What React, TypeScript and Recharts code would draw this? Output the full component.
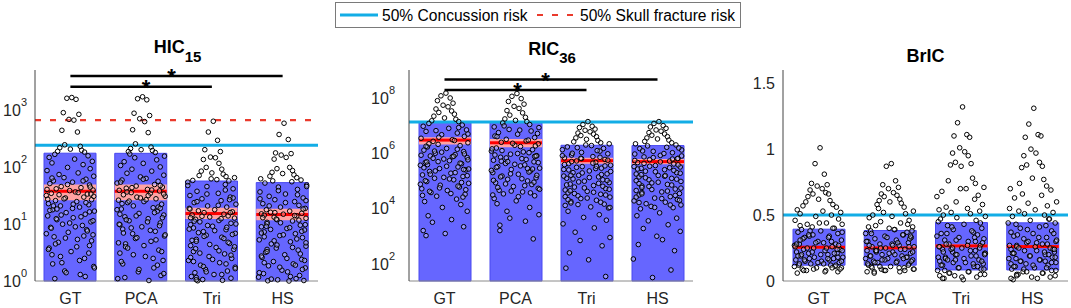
import React from 'react';
import { ComposedChart, Bar, Scatter, XAxis, YAxis, ReferenceLine } from 'recharts';

const FONT = '"Liberation Sans", Arial, Helvetica, sans-serif';

const categories = ['GT', 'PCA', 'Tri', 'HS'];

// ---------- HIC15 ----------
const hicGT = [1700,1650,1580,920,860,700,680,450,420,250,235,222,210,200,192,186,170,160,150,140,128,120,112,100,95,88,80,75,70,66,62,58,55,52,49,46,44,42,40,39,37,35,34,32,30,29,27,26,25,23,22,21,20,18,17,16,15,14,13,12,11,10,9.5,8.8,8,7.2,6.5,6,5.4,4.8,4.2,3.8,3.3,2.9,2.5,2.1,1.8,1.5,1.3,1.1,
  65,58,50,45,41,36,33,31,28,24,21,19,17.5,16.5,14.5,13.5,12.5,11.5,10.5,9,8.5,7.6,6.8,6.2,5.7,5.1,4.5,4,3.6,3.1,2.7,2.3,2,1.7,1.4,1.2,27.5,22.5,18.5,34];
const hicPCA = [1750,1620,1550,900,820,720,640,460,410,260,228,215,205,198,190,183,172,158,148,136,126,118,108,102,93,86,79,73,68,64,60,57,53,50,47,45,43,41,39.5,38.5,36,35,33,31,30,28,26.5,25,24,22.5,21,19.5,18.5,17,15.5,14.5,13.5,12.5,11.5,10.5,9.8,9,8.2,7.5,6.8,6.2,5.6,5,4.5,4,3.5,3.1,2.7,2.3,2,1.7,1.45,1.25,1.1,1.02,
  62,55,48,44,40,37,34,29,27,23,20,18,16,14,13,12,11,10,9.4,8.6,7.8,7,6.5,5.8,5.3,4.7,4.2,3.8,3.3,2.9,2.5,2.2,1.9,1.6,1.35,1.15,32,25.5,19,15];
const hicTri = [650,420,300,205,190,152,148,138,118,100,93,86,80,76,72,69,66,63,61,59,58,55,50,46,42,38,35,32,30,28,26,24,22.5,21,20,19,18,17.2,16.5,16,15,14.5,14,13.4,12.8,12.2,11.6,11,10.4,9.8,9.2,8.6,8,7.4,6.9,6.4,5.9,5.4,5,4.6,4.2,3.9,3.6,3.3,3,2.7,2.5,2.3,2.1,1.9,1.75,1.6,1.5,1.4,1.3,1.2,1.12,1.06,1.03,1.01,
  48,40,34,29,25,21.5,18.5,16,13.8,12.5,11.3,10.1,9.5,8.8,8.2,7.7,7.1,6.6,6.1,5.6,5.2,4.8,4.4,4,3.7,3.4,3.1,2.85,2.6,2.4,2.2,2,1.8,1.65,1.45,1.3,1.15,1.05,27,13];
const hicHS = [600,380,310,180,175,165,150,140,100,95,88,82,78,74,70,66,63,60,58,56,53,49,45,41,37,34,31,29,27,25,23,21.5,20,19,18,17,16.2,15.6,15.2,15,14.4,14,13.3,12.7,12,11.4,10.8,10.2,9.6,9,8.4,7.9,7.3,6.8,6.3,5.8,5.3,4.9,4.5,4.1,3.8,3.5,3.2,2.9,2.6,2.4,2.2,2,1.85,1.7,1.55,1.45,1.35,1.25,1.17,1.1,1.05,1.02,1.01,1,
  46,39,33,28,24,21,18.5,16,14.2,13,11.8,10.6,9.8,9.2,8.7,8.1,7.5,7,6.5,6,5.5,5.1,4.7,4.3,3.9,3.6,3.3,3,2.75,2.5,2.3,2.1,1.9,1.75,1.6,1.4,1.2,1.08,26,12.3];
const hicBarTop = [178, 177, 57.6, 54];
const hicMean = [38, 38, 15.4, 14.8];
const hicCiLow = [26.5, 26.5, 12.3, 11.7];
const hicCiHigh = [50, 50, 19.4, 18.7];
const hicConcussion = 245;
const hicSkullFracture = 680;
const hicDomain = [1, 5190];
const hicTicks = [1, 10, 100, 1000];
const hicMajorMarks = [1, 10, 100, 1000];
const hicSig = [
  { from: 1, to: 4, level: 4070 },
  { from: 1, to: 3, level: 2640 },
];

// ---------- RIC36 ----------
const ricGT = [1.5e8,1.2e8,1e8,8e7,6.5e7,5.5e7,4.8e7,4e7,3.4e7,3e7,2.6e7,2.2e7,1.9e7,1.7e7,1.5e7,1.4e7,1.2e7,1.05e7,9.5e6,8e6,7e6,6.2e6,5.4e6,4.7e6,4.1e6,3.5e6,3.1e6,2.7e6,2.4e6,2.1e6,1.9e6,1.7e6,1.5e6,1.3e6,1.15e6,1e6,9e5,8e5,7e5,6.2e5,5.4e5,4.7e5,4.2e5,3.7e5,3.2e5,2.8e5,2.5e5,2.2e5,1.9e5,1.65e5,1.45e5,1.25e5,1.1e5,9.5e4,8.2e4,7e4,6e4,5.2e4,4.5e4,3.8e4,3.3e4,2.8e4,2.2e4,1.8e4,1.4e4,1.1e4,8e3,5.5e3,4e3,3.2e3,2.2e3,1.6e3,1.25e3,1.05e3,
  8.5e6,6.6e6,5e6,3.8e6,2.9e6,2.2e6,1.8e6,1.4e6,1.1e6,9.5e5,8.5e5,7.5e5,6.6e5,5.8e5,5e5,4.4e5,3.9e5,3.4e5,3e5,2.6e5,2.3e5,2e5,1.75e5,1.55e5,1.35e5,1.18e5,1.02e5,8.8e4,7.6e4,6.5e4,5.6e4,4.8e4,4.2e4,3.5e4,3e4,2.6e4,1.2e6,7.8e5,4.9e5,2.7e5];
const ricPCA = [1.45e8,1.15e8,9.5e7,7.5e7,6e7,5e7,4.2e7,3.5e7,2.9e7,2.4e7,2e7,1.75e7,1.55e7,1.4e7,1.25e7,1.1e7,9.8e6,8.5e6,7.3e6,6.4e6,5.6e6,4.9e6,4.2e6,3.7e6,3.2e6,2.8e6,2.5e6,2.2e6,1.95e6,1.75e6,1.55e6,1.35e6,1.2e6,1.05e6,9.3e5,8.2e5,7.2e5,6.4e5,5.6e5,4.9e5,4.3e5,3.8e5,3.3e5,2.9e5,2.6e5,2.3e5,2e5,1.75e5,1.5e5,1.3e5,1.15e5,1e5,8.6e4,7.4e4,6.3e4,5.4e4,4.6e4,4e4,3.4e4,2.9e4,2.3e4,1.9e4,1.5e4,1.1e4,8e3,6e3,4.5e3,3.5e3,2.5e3,1.6e3,800,
  9e6,6.9e6,5.2e6,4e6,3e6,2.3e6,1.85e6,1.45e6,1.12e6,9.8e5,8.7e5,7.7e5,6.8e5,6e5,5.2e5,4.6e5,4e5,3.5e5,3.1e5,2.7e5,2.4e5,2.1e5,1.8e5,1.6e5,1.4e5,1.2e5,1.05e5,9e4,7.8e4,6.7e4,5.8e4,5e4,4.3e4,3.7e4,3.1e4,2.7e4,1.25e6,8e5,5e5,2.8e5];
const ricTri = [1.4e7,1.1e7,9.5e6,8.5e6,7.5e6,6.8e6,6e6,5.4e6,4.9e6,4.4e6,4e6,3.6e6,3.2e6,2.9e6,2.6e6,2.4e6,2.2e6,2e6,1.9e6,1.7e6,1.5e6,1.35e6,1.2e6,1.08e6,9.6e5,8.6e5,7.6e5,6.8e5,6e5,5.3e5,4.7e5,4.2e5,3.7e5,3.3e5,2.9e5,2.6e5,2.3e5,2e5,1.8e5,1.6e5,1.4e5,1.25e5,1.1e5,9.8e4,8.7e4,7.7e4,6.8e4,6e4,5.3e4,4.7e4,4.2e4,3.7e4,3.3e4,2.9e4,2.6e4,2.3e4,2e4,1.8e4,1.6e4,1.45e4,1.3e4,1.15e4,1.05e4,8e3,6e3,4.8e3,3.8e3,2.8e3,2e3,1.4e3,900,700,450,250,140,70,35,
  1.6e6,1.25e6,1e6,8.2e5,7.2e5,6.4e5,5.6e5,5e5,4.4e5,3.9e5,3.5e5,3.1e5,2.8e5,2.5e5,2.2e5,1.95e5,1.7e5,1.5e5,1.33e5,1.18e5,1.04e5,9.2e4,8.2e4,7.2e4,6.4e4,5.6e4,5e4,4.4e4,3.9e4,3.5e4,3.1e4,2.7e4,2.4e4,2.1e4,1.7e4,1.4e4,1.1e4,6.6e5,3.4e5,1.6e5];
const ricHS = [1.4e7,1.2e7,1e7,9e6,8e6,7e6,6.3e6,5.6e6,5e6,4.5e6,4e6,3.6e6,3.3e6,3e6,2.7e6,2.4e6,2.2e6,2e6,1.85e6,1.65e6,1.48e6,1.32e6,1.18e6,1.05e6,9.4e5,8.4e5,7.4e5,6.6e5,5.9e5,5.2e5,4.6e5,4.1e5,3.6e5,3.2e5,2.85e5,2.55e5,2.25e5,2e5,1.78e5,1.58e5,1.4e5,1.24e5,1.1e5,9.6e4,8.5e4,7.5e4,6.6e4,5.8e4,5.1e4,4.5e4,4e4,3.5e4,3.1e4,2.7e4,2.4e4,2.1e4,1.9e4,1.7e4,1.5e4,1.35e4,1.2e4,1.08e4,9.8e3,7e3,5.5e3,4.5e3,3.6e3,2.6e3,1.9e3,1.5e3,1e3,750,500,300,150,60,32,
  1.55e6,1.22e6,9.8e5,8e5,7e5,6.2e5,5.5e5,4.9e5,4.3e5,3.8e5,3.4e5,3e5,2.7e5,2.4e5,2.15e5,1.9e5,1.68e5,1.48e5,1.3e5,1.16e5,1.02e5,9e4,8e4,7.1e4,6.3e4,5.5e4,4.9e4,4.3e4,3.8e4,3.4e4,3e4,2.6e4,2.3e4,2e4,1.65e4,1.35e4,1.1e4,6.4e5,3.3e5,1.55e5];
const ricBarTop = [1.3e7, 1.3e7, 1.95e6, 1.9e6];
const ricMean = [3.0e6, 2.4e6, 5.4e5, 5.0e5];
const ricCiLow = [2.1e6, 1.65e6, 4.2e5, 4.0e5];
const ricCiHigh = [3.8e6, 3.3e6, 6.9e5, 6.2e5];
const ricConcussion = 1.36e7;
const ricDomain = [24, 1.03e9];
const ricTicks = [1e2, 1e4, 1e6, 1e8];
const ricMajorMarks = [1e2, 1e3, 1e4, 1e5, 1e6, 1e7, 1e8, 1e9];
const ricSig = [
  { from: 1, to: 4, level: 4.7e8 },
  { from: 1, to: 3, level: 1.95e8 },
];

// ---------- BrIC ----------
const bricGT = [1.01,0.89,0.81,0.74,0.73,0.72,0.7,0.69,0.67,0.66,0.66,0.64,0.62,0.61,0.6,0.58,0.57,0.56,0.54,0.53,0.52,0.51,0.5,0.49,0.47,0.46,0.44,0.43,0.43,0.41,0.4,0.39,0.38,0.37,0.36,0.34,0.34,0.33,0.31,0.3,0.29,0.28,0.28,0.27,0.26,0.25,0.24,0.24,0.23,0.22,0.21,0.21,0.2,0.19,0.18,0.18,0.17,0.16,0.15,0.15,0.14,0.13,0.12,0.12,0.11,0.1,0.1,0.09,0.08,0.08,0.07,0.06,
  0.44,0.42,0.4,0.38,0.37,0.35,0.33,0.32,0.31,0.3,0.29,0.27,0.26,0.25,0.25,0.23,0.22,0.21,0.2,0.2,0.19,0.18,0.17,0.16,0.16,0.15,0.14,0.13,0.13,0.12,0.11,0.1,0.09,0.09,0.08,0.07,0.28,0.24,0.35,0.17];
const bricPCA = [0.89,0.87,0.76,0.73,0.71,0.7,0.67,0.66,0.65,0.64,0.62,0.61,0.6,0.59,0.58,0.56,0.55,0.53,0.52,0.51,0.5,0.49,0.48,0.46,0.45,0.44,0.42,0.41,0.4,0.39,0.38,0.37,0.36,0.35,0.34,0.33,0.32,0.31,0.3,0.29,0.28,0.27,0.26,0.26,0.25,0.24,0.23,0.22,0.22,0.21,0.2,0.19,0.19,0.18,0.17,0.16,0.15,0.15,0.14,0.13,0.12,0.11,0.11,0.1,0.09,0.09,0.08,0.07,0.07,0.06,
  0.43,0.41,0.39,0.38,0.36,0.35,0.33,0.32,0.3,0.29,0.28,0.27,0.26,0.25,0.24,0.23,0.22,0.21,0.2,0.19,0.18,0.17,0.17,0.16,0.15,0.14,0.14,0.13,0.12,0.11,0.1,0.1,0.09,0.08,0.08,0.07,0.27,0.23,0.34,0.16];
const bricTri = [1.32,1.2,1.11,1.1,1.09,1.01,0.98,0.97,0.95,0.9,0.89,0.88,0.87,0.78,0.76,0.74,0.71,0.7,0.7,0.68,0.65,0.64,0.62,0.6,0.58,0.56,0.55,0.54,0.53,0.52,0.51,0.5,0.49,0.48,0.46,0.45,0.43,0.42,0.4,0.39,0.37,0.36,0.35,0.33,0.32,0.31,0.3,0.28,0.27,0.26,0.25,0.24,0.23,0.22,0.21,0.2,0.19,0.18,0.17,0.16,0.15,0.14,0.13,0.12,0.11,0.1,0.09,0.08,0.07,0.06,0.05,0.04,0.03,0.02,0.01,
  0.47,0.44,0.41,0.38,0.36,0.34,0.33,0.31,0.29,0.28,0.27,0.26,0.25,0.24,0.23,0.22,0.21,0.2,0.19,0.18,0.17,0.16,0.15,0.14,0.13,0.12,0.11,0.1,0.09,0.08,0.07,0.06,0.05,0.04,0.03,0.02,0.3,0.25,0.2,0.16];
const bricHS = [1.31,1.19,1.11,1.09,1.1,1,0.97,0.95,0.9,0.88,0.87,0.86,0.78,0.77,0.74,0.72,0.7,0.69,0.66,0.65,0.63,0.6,0.59,0.57,0.55,0.54,0.53,0.52,0.51,0.5,0.49,0.47,0.46,0.44,0.43,0.41,0.4,0.38,0.37,0.36,0.34,0.33,0.32,0.3,0.29,0.28,0.27,0.26,0.25,0.24,0.23,0.22,0.21,0.2,0.19,0.18,0.17,0.16,0.15,0.14,0.13,0.12,0.11,0.1,0.09,0.08,0.07,0.06,0.05,0.04,0.03,0.02,0.01,
  0.47,0.44,0.42,0.39,0.36,0.35,0.33,0.31,0.3,0.28,0.27,0.26,0.25,0.24,0.23,0.22,0.21,0.2,0.19,0.18,0.17,0.16,0.15,0.14,0.13,0.12,0.11,0.1,0.09,0.08,0.07,0.06,0.05,0.04,0.03,0.02,0.29,0.24,0.21,0.15];
const bricBarLow = [0.12, 0.12, 0.084, 0.084];
const bricBarHigh = [0.393, 0.383, 0.443, 0.441];
const bricMean = [0.256, 0.251, 0.266, 0.261];
const bricCiLow = [0.247, 0.242, 0.255, 0.25];
const bricCiHigh = [0.265, 0.26, 0.277, 0.272];
const bricConcussion = 0.5;
const bricDomain = [0, 1.6];
const bricTicks = [0, 0.5, 1, 1.5];

// horizontal jitter (category units) of the swarm points
const jitter = [0.02,-0.05,0.08,-0.1,0.12,-0.02,0.05,-0.12,0.1,-0.08,0.14,-0.15,0.0,0.16,-0.18,0.2,-0.22,0.25,-0.3,0.06,0.31,-0.26,0.18,-0.04,0.28,-0.33,0.11,-0.16,0.33,-0.09,0.22,-0.24,0.03,-0.29,0.27,-0.13,0.15,-0.2,0.32,-0.01,0.07,-0.27,0.24,-0.34,0.19,-0.07,0.3,-0.21,0.09,-0.31,0.26,-0.14,0.13,-0.25,0.34,-0.06,0.21,-0.32,0.04,-0.19,0.29,-0.11,0.17,-0.28,0.23,-0.03,0.32,-0.23,0.1,-0.17,0.27,-0.3,0.01,-0.26,0.2,-0.12,0.33,-0.08,0.14,-0.22];

const legendItems = ['50% Concussion risk', '50% Skull fracture risk'];

// ---------- helpers ----------
const buildPoints = (groups: number[][]) =>
  groups.flatMap((vals, g) =>
    vals.map((v, i) => {
      const n = jitter.length;
      const idx = i < 16 ? i : 16 + ((i - 16 + g * 11 + Math.floor(i / n) * 5) % (n - 16));
      return { x: g + 1 + jitter[idx], y: v };
    })
  );

const buildRows = (lo: number[], hi: number[], ciLo: number[], ciHi: number[], mean: number[]) =>
  categories.map((cat, i) => ({ cat, bar: [lo[i], hi[i]], ci: [ciLo[i], ciHi[i]], mean: mean[i] }));

const minorTicks = (lo: number, hi: number) => {
  const out: number[] = [];
  for (let e = Math.floor(Math.log10(lo)); Math.pow(10, e) <= hi; e++) {
    for (let m = 2; m <= 9; m++) {
      const v = m * Math.pow(10, e);
      if (v >= lo && v <= hi) out.push(v);
    }
  }
  return out;
};

const LogTick = (props: any) => {
  const { x, y, payload } = props;
  const exp = Math.round(Math.log10(payload.value));
  return (
    <text x={x} y={y} dy={5.7} textAnchor="end" fontSize={16} fill="#262626" fontFamily={FONT}>
      <tspan>10</tspan>
      <tspan dy={-10} fontSize={11}>{exp}</tspan>
    </text>
  );
};

const MeanLine = (props: any) => (
  <rect x={props.x} y={props.y - 1.5} width={props.width} height={3} fill="#ff0000" />
);

const Dot = (props: any) => (
  <circle cx={props.cx} cy={props.cy} r={2.3} fill="#ffffff" fillOpacity={0.3} stroke="#000000" strokeWidth={1} />
);

const starLabel = (dx: number) => (props: any) => {
  const vb = props.viewBox || { x: 0, y: 0, width: 0 };
  return (
    <text x={vb.x + (vb.width || 0) / 2 + dx} y={vb.y + 8.5} textAnchor="middle" fontSize={22} fontWeight="bold" fill="#000" fontFamily={FONT}>
      *
    </text>
  );
};

type PanelProps = {
  left: number;
  width: number;
  yWidth: number;
  right: number;
  log: boolean;
  domain: number[];
  ticks: number[];
  tickMargin: number;
  rows: any[];
  points: any[];
  concussion: number;
  skull?: number;
  sig: { from: number; to: number; level: number }[];
  starDx: number[];
  minor: number[];
  major: number[];
};

const Panel = (p: PanelProps) => {
  const scale = p.log ? 'log' : 'linear';
  return (
    <div style={{ position: 'absolute', left: p.left, top: 0 }}>
      <ComposedChart width={p.width} height={308} data={p.rows} margin={{ top: 70, right: p.right, bottom: 0, left: 0 }}>
        <XAxis xAxisId="c1" dataKey="cat" height={27} tickLine={false} tickSize={0} tickMargin={12} interval={0}
          axisLine={{ stroke: '#8a8a8a' }} tick={{ fontSize: 16, fill: '#262626', fontFamily: FONT }} />
        <XAxis xAxisId="c2" dataKey="cat" hide height={0} />
        <XAxis xAxisId="c3" dataKey="cat" hide height={0} />
        <XAxis xAxisId="j" type="number" dataKey="x" domain={[0.5, 4.5]} hide height={0} />
        <YAxis type="number" width={p.yWidth} scale={scale} domain={p.domain} ticks={p.ticks} interval={0}
          tickSize={0} tickLine={false} tickMargin={p.tickMargin} axisLine={{ stroke: '#444' }}
          tick={p.log ? (tp: any) => <LogTick {...tp} /> : { fontSize: 16, fill: '#262626', fontFamily: FONT }} />
        <YAxis yAxisId="s" type="number" dataKey="y" scale={scale} domain={p.domain} hide width={0} />
        <YAxis yAxisId="minor" type="number" mirror width={0} scale={scale} domain={p.domain} ticks={p.minor} interval={0}
          tick={false} tickSize={2.5} axisLine={false} tickLine={{ stroke: '#555' }} />
        <YAxis yAxisId="major" type="number" mirror width={0} scale={scale} domain={p.domain} ticks={p.major} interval={0}
          tick={false} tickSize={5} axisLine={false} tickLine={{ stroke: '#444' }} />
        <Bar xAxisId="c1" dataKey="bar" barSize={52} fill="#6666ff" stroke="#4848f0" strokeWidth={1} isAnimationActive={false} />
        <Bar xAxisId="c2" dataKey="ci" barSize={52} fill="#ffa3a3" isAnimationActive={false} />
        <Bar xAxisId="c3" dataKey="mean" barSize={52} shape={MeanLine} isAnimationActive={false} />
        <ReferenceLine xAxisId="j" y={p.concussion} stroke="#12ade6" strokeWidth={3} />
        {p.skull !== undefined && (
          <ReferenceLine xAxisId="j" y={p.skull} stroke="#ea3a2c" strokeWidth={2.2} strokeDasharray="6 9" />
        )}
        {p.sig.map((s, i) => (
          <ReferenceLine key={i} xAxisId="j" segment={[{ x: s.from, y: s.level }, { x: s.to, y: s.level }]}
            stroke="#000" strokeWidth={2.5} label={starLabel(p.starDx[i])} />
        ))}
        <Scatter xAxisId="j" yAxisId="s" data={p.points} shape={Dot} isAnimationActive={false} />
      </ComposedChart>
    </div>
  );
};

export default function App() {
  const hicRows = buildRows(hicBarTop.map(() => hicDomain[0]), hicBarTop, hicCiLow, hicCiHigh, hicMean);
  const ricRows = buildRows(ricBarTop.map(() => ricDomain[0]), ricBarTop, ricCiLow, ricCiHigh, ricMean);
  const bricRows = buildRows(bricBarLow, bricBarHigh, bricCiLow, bricCiHigh, bricMean);

  return (
    <div style={{ position: 'absolute', left: 0, top: 0, width: 1071, height: 308, background: '#fff', fontFamily: FONT, overflow: 'hidden' }}>
      <svg width={1071} height={308} style={{ position: 'absolute', left: 0, top: 0 }}>
        <rect x={335.5} y={2.5} width={405} height={25} fill="#fff" stroke="#7a7a7a" strokeWidth={1} />
        <line x1={340} x2={378} y1={15} y2={15} stroke="#12ade6" strokeWidth={3} />
        <text x={382} y={20.5} fontSize={15.6} fill="#000">{legendItems[0]}</text>
        <line x1={537} x2={575} y1={15} y2={15} stroke="#ea3a2c" strokeWidth={2.2} strokeDasharray="6 9" />
        <text x={580} y={20.5} fontSize={15.6} fill="#000">{legendItems[1]}</text>

        <text x={177.5} y={53} textAnchor="middle" fontSize={18} fontWeight="bold" fill="#000">
          HIC<tspan dy={8.5} fontSize={15}>15</tspan>
        </text>
        <text x={552} y={55} textAnchor="middle" fontSize={18} fontWeight="bold" fill="#000">
          RIC<tspan dy={8} fontSize={15}>36</tspan>
        </text>
        <text x={925.5} y={62} textAnchor="middle" fontSize={18} fontWeight="bold" fill="#000">
          BrIC
        </text>
      </svg>

      <Panel left={0} width={330} yWidth={35} right={12} log domain={hicDomain} ticks={hicTicks} tickMargin={8}
        rows={hicRows} points={buildPoints([hicGT, hicPCA, hicTri, hicHS])} concussion={hicConcussion} skull={hicSkullFracture}
        sig={hicSig} starDx={[-5, 5]} minor={minorTicks(hicDomain[0], hicDomain[1])} major={hicMajorMarks} />
      <Panel left={370} width={330} yWidth={39} right={7} log domain={ricDomain} ticks={ricTicks} tickMargin={14}
        rows={ricRows} points={buildPoints([ricGT, ricPCA, ricTri, ricHS])} concussion={ricConcussion}
        sig={ricSig} starDx={[-5.5, 2]} minor={minorTicks(ricDomain[0], ricDomain[1])} major={ricMajorMarks} />
      <Panel left={740} width={331} yWidth={43} right={3} log={false} domain={bricDomain} ticks={bricTicks} tickMargin={8}
        rows={bricRows} points={buildPoints([bricGT, bricPCA, bricTri, bricHS])} concussion={bricConcussion}
        sig={[]} starDx={[]} minor={[]} major={bricTicks} />
    </div>
  );
}
